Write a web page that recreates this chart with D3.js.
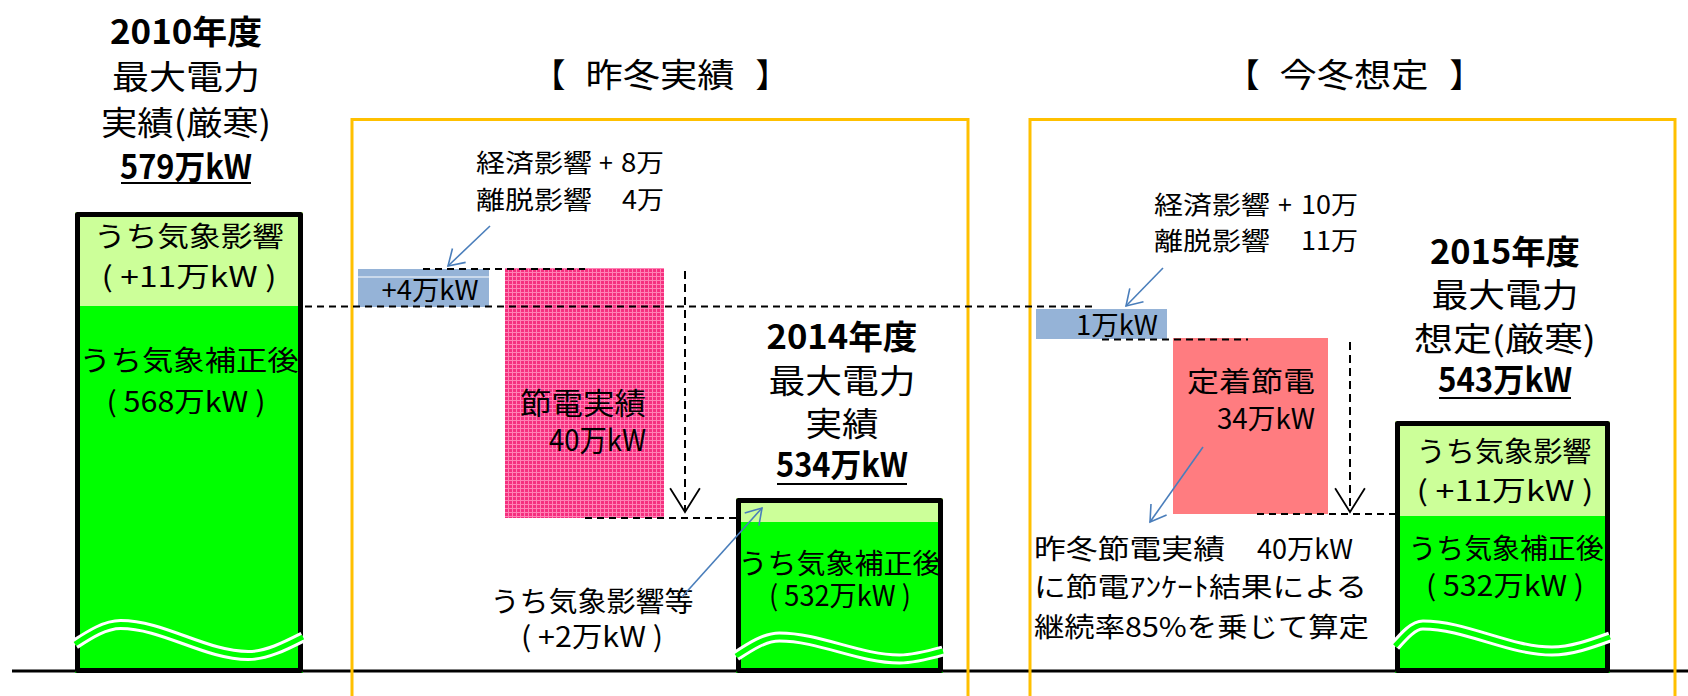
<!DOCTYPE html>
<html><head><meta charset="utf-8">
<script src="https://cdn.jsdelivr.net/npm/d3@7"></script>
<style>html,body{margin:0;padding:0;background:#fff;overflow:hidden;} svg{display:block;}</style>
</head><body>
<script>
// ================= DATA (万kW) =================
const categories      = ["2010年度", "昨冬 経済・離脱影響", "節電実績", "2014年度", "今冬 経済・離脱影響", "定着節電", "2015年度"];
const blockKinds      = ["total", "delta", "saving", "total", "delta", "saving", "total"];
const totalValues     = [579, null, null, 534, null, null, 543];
const weatherValues   = [11, null, null, 2, null, null, 11];
const correctedValues = [568, null, null, 532, null, null, 532];
const changeValues    = [null, 4, -40, null, -1, -34, null];
const economicEffect  = [8, 10];     // 経済影響 (昨冬, 今冬)
const departureEffect = [4, 11];     // 離脱影響 (昨冬, 今冬)
const sectionTitles   = ["昨冬実績", "今冬想定"];
const continuationRate = 85;         // %
const titleLines = [
  ["2010年度", "最大電力", "実績(厳寒)"],
  ["2014年度", "最大電力", "実績"],
  ["2015年度", "最大電力", "想定(厳寒)"]
];

// ================= LAYOUT =================
const W = 1688, H = 696;
const FONT = "'Noto Sans CJK JP','Noto Sans',sans-serif";
// schematic (broken, non-proportional) display scale: units above the bar base
const y = d3.scaleLinear().domain([0, 560]).range([673, 113]);
const x = d3.scaleLinear().domain([0, W]).range([0, W]);
const layout = {
  xLeft:  [75, 358, 505, 736, 1036, 1173, 1395],
  xRight: [303, 489, 664, 943, 1167, 1328, 1610],
  top:    [461, 404, 405, 175, 364, 335, 252],
  bottom: [0, 366, 155, 0, 334, 159, 0],
  split:  [367, null, null, 151, null, null, 157]
};
const COL = {
  light: "#CCFF99", dark: "#00FF00", blue: "#95B3D7", salmon: "#FF7C80",
  orange: "#FFC000", arrow: "#4A7EBB"
};

const svg = d3.select("body").append("svg").attr("width", W).attr("height", H);
svg.append("rect").attr("width", W).attr("height", H).attr("fill", "#fff");

// pink textured pattern
const defs = svg.append("defs");
const pat = defs.append("pattern").attr("id", "pinkTex").attr("patternUnits", "userSpaceOnUse")
  .attr("width", 4).attr("height", 4);
pat.append("rect").attr("width", 4).attr("height", 4).attr("fill", "#F5307F");
pat.append("rect").attr("width", 4).attr("height", 1).attr("fill", "#FF82B5");
pat.append("rect").attr("width", 1).attr("height", 4).attr("fill", "#FF82B5");

// baseline
svg.append("line").attr("x1", 12).attr("x2", W).attr("y1", 671).attr("y2", 671)
  .attr("stroke", "#000").attr("stroke-width", 3);

// orange section frames
[[352, 968], [1030, 1675]].forEach(([a, b]) => {
  svg.append("path").attr("d", `M${a},${H + 10}V119.5H${b}V${H + 10}`)
    .attr("fill", "none").attr("stroke", COL.orange).attr("stroke-width", 3);
});

// ================= BARS =================
const waves = {
  0: {l: 644, pk: 624.5, tp: 0.2, tr: 655.5, tt: 0.76, r: 637},
  3: {l: 656, pk: 637, tp: 0.21, tr: 659, tt: 0.79, r: 651},
  6: {l: 646, pk: 625, tp: 0.13, tr: 651, tt: 0.73, r: 637}
};
const waveLine = d3.line().curve(d3.curveMonotoneX);

categories.forEach((c, i) => {
  const x0 = x(layout.xLeft[i]), x1 = x(layout.xRight[i]);
  const yt = y(layout.top[i]), yb = y(layout.bottom[i]);
  const kind = blockKinds[i];
  if (kind === "total") {
    const ys = y(layout.split[i]);
    svg.append("rect").attr("x", x0).attr("y", yt).attr("width", x1 - x0).attr("height", ys - yt).attr("fill", COL.light);
    svg.append("rect").attr("x", x0).attr("y", ys).attr("width", x1 - x0).attr("height", yb - ys).attr("fill", COL.dark);
    svg.append("rect").attr("x", x0 + 2.5).attr("y", yt + 2.5).attr("width", x1 - x0 - 5).attr("height", yb - yt - 5)
      .attr("fill", "none").attr("stroke", "#000").attr("stroke-width", 5).attr("stroke-linejoin", "round");
    const w = waves[i], bw = x1 - x0;
    const pts = [[x0, w.l], [x0 + w.tp * bw, w.pk], [x0 + w.tt * bw, w.tr], [x1, w.r]];
    svg.append("path").attr("d", waveLine(pts)).attr("fill", "none").attr("stroke", "#fff").attr("stroke-width", 11);
    svg.append("path").attr("d", waveLine(pts)).attr("fill", "none").attr("stroke", COL.dark).attr("stroke-width", 5);
  } else if (kind === "delta") {
    svg.append("rect").attr("x", x0).attr("y", yt).attr("width", x1 - x0).attr("height", yb - yt).attr("fill", COL.blue);
    if (changeValues[i] > 0) {
      svg.append("line").attr("x1", x0).attr("x2", x1).attr("y1", yt + 8).attr("y2", yt + 8)
        .attr("stroke", "#fff").attr("stroke-width", 1.2);
    }
  } else {
    svg.append("rect").attr("x", x0).attr("y", yt).attr("width", x1 - x0).attr("height", yb - yt)
      .attr("fill", i === 2 ? "url(#pinkTex)" : COL.salmon);
  }
});

// ================= DASHED CONNECTORS =================
const connectors = [
  [305, 1097, layout.split[0] - 0.5],
  [423, 585, layout.top[1]],
  [585, 736, layout.bottom[2]],
  [1102, 1248, layout.bottom[4] - 0.5],
  [1257, 1395, layout.bottom[5]]
];
connectors.forEach(([a, b, lv]) => {
  svg.append("line").attr("x1", x(a)).attr("x2", x(b)).attr("y1", y(lv)).attr("y2", y(lv))
    .attr("stroke", "#000").attr("stroke-width", 2).attr("stroke-dasharray", "7,5");
});

// helpers
function head(p0, p1, L, ang, color, sw) {
  const a = Math.atan2(p0[1] - p1[1], p0[0] - p1[0]);
  const w1 = [p1[0] + L * Math.cos(a + ang), p1[1] + L * Math.sin(a + ang)];
  const w2 = [p1[0] + L * Math.cos(a - ang), p1[1] + L * Math.sin(a - ang)];
  svg.append("path").attr("d", `M${w1}L${p1}L${w2}`).attr("fill", "none")
    .attr("stroke", color).attr("stroke-width", sw).attr("stroke-linejoin", "miter");
}
function arrow(p0, p1) {
  svg.append("line").attr("x1", p0[0]).attr("y1", p0[1]).attr("x2", p1[0]).attr("y2", p1[1])
    .attr("stroke", COL.arrow).attr("stroke-width", 1.6);
  head(p0, p1, 18, 0.56, COL.arrow, 1.6);
}
function downArrow(xx, lv0, lv1) {
  const p0 = [x(xx), y(lv0)], p1 = [x(xx), y(lv1)];
  svg.append("line").attr("x1", p0[0]).attr("y1", p0[1]).attr("x2", p1[0]).attr("y2", p1[1] - 2)
    .attr("stroke", "#000").attr("stroke-width", 2).attr("stroke-dasharray", "8,5");
  head(p0, p1, 28, 0.56, "#000", 1.8);
}
// vertical dashed arrows (savings)
downArrow(685, layout.top[2] - 3, layout.bottom[2] + 6);
downArrow(1350, layout.top[5] - 4, layout.bottom[5] + 2);

// ================= TEXT =================
function label(xx, yy, str, o = {}) {
  const t = svg.append("text").attr("x", xx).attr("y", yy).text(str)
    .attr("font-family", FONT).attr("font-size", o.size || 28)
    .attr("font-weight", o.bold ? 700 : 400)
    .attr("text-anchor", o.anchor || "middle").attr("fill", "#000");
  if (o.tl) t.attr("textLength", o.tl).attr("lengthAdjust", "spacingAndGlyphs");
  return t;
}
const kW = v => `${v}万kW`;

// title blocks
function titleBlock(cx, ys, lines, value, tls, ul) {
  label(cx, ys[0], lines[0], {size: 33, bold: true, tl: tls[0]});
  label(cx, ys[1], lines[1], {size: 33, tl: tls[1]});
  label(cx, ys[2], lines[2], {size: 33, tl: tls[2]});
  label(cx, ys[3], kW(value), {size: 33, bold: true, tl: tls[3]});
  svg.append("line").attr("x1", cx - tls[3] / 2 + 1).attr("x2", cx + tls[3] / 2 - 1)
    .attr("y1", ul).attr("y2", ul).attr("stroke", "#000").attr("stroke-width", 2.2);
}
titleBlock(186, [44, 89, 135, 179], titleLines[0], totalValues[0], [152, 148, 170, 132], 183);
titleBlock(842, [349, 393, 436, 477], titleLines[1], totalValues[3], [151, 147, 73, 132], 484);
titleBlock(1505, [264, 307, 351, 392], titleLines[2], totalValues[6], [150, 147, 182, 134], 398);

// section headers
[[660, sectionTitles[0]], [1354, sectionTitles[1]]].forEach(([cx, s]) => {
  label(cx, 87, s, {size: 33, tl: 149});
  label(cx - 111, 87, "【", {size: 33, anchor: "middle"});
  label(cx + 112, 87, "】", {size: 33, anchor: "middle"});
});

// bar labels
label(189, 247, "うち気象影響", {tl: 190});
label(189, 287, `( +${weatherValues[0]}万kW )`, {tl: 175});
label(189, 371, "うち気象補正後", {tl: 219});
label(186, 412, `( ${kW(correctedValues[0])} )`, {tl: 159});

label(840, 574, "うち気象補正後", {tl: 203});
label(840, 606, `( ${kW(correctedValues[3])} )`, {tl: 142});

label(1504, 462, "うち気象影響", {tl: 175});
label(1505, 501, `( +${weatherValues[6]}万kW )`, {tl: 177});
label(1506, 559, "うち気象補正後", {tl: 195});
label(1505, 596, `( ${kW(correctedValues[6])} )`, {tl: 158});

// change labels
label(430, 300, `+${kW(changeValues[1])}`, {size: 27, tl: 97});
label(1117, 335, kW(-changeValues[4]), {size: 27, tl: 82});
label(646, 414, categories[2], {size: 30, anchor: "end", tl: 126});
label(646, 451, kW(-changeValues[2]), {size: 30, anchor: "end", tl: 97});
label(1315, 392, categories[5], {size: 28, anchor: "end", tl: 128});
label(1315, 429, kW(-changeValues[5]), {size: 28, anchor: "end", tl: 98});

// economic / departure annotations
[[476, 664, 606, 172, 209, 0], [1154, 1358, 1285, 214, 250, 1]].forEach(([xs, xe, xp, y1, y2, k]) => {
  label(xs, y1, "経済影響", {size: 25, anchor: "start", tl: 116});
  label(xp, y1, "+", {size: 25});
  label(xe, y1, `${economicEffect[k]}万`, {size: 25, anchor: "end", tl: k ? 57 : 43});
  label(xs, y2, "離脱影響", {size: 25, anchor: "start", tl: 116});
  label(xe, y2, `${departureEffect[k]}万`, {size: 25, anchor: "end", tl: k ? 57 : 42});
});

// weather effect note (2014)
label(592, 612, "うち気象影響等", {tl: 203});
label(592, 647, `( +${kW(weatherValues[3])} )`, {tl: 142});

// saving note (2015)
label(1034, 559, "昨冬節電実績", {size: 27, anchor: "start", tl: 191});
label(1353, 559, kW(-changeValues[2]), {size: 27, anchor: "end", tl: 96});
label(1034, 597, "に節電ｱﾝｹｰﾄ結果による", {size: 27, anchor: "start", tl: 333});
label(1034, 637, `継続率${continuationRate}%を乗じて算定`, {size: 27, anchor: "start", tl: 335});

// blue pointer arrows
arrow([490, 226], [448, 266]);
arrow([1163, 268], [1126, 306]);
arrow([682, 597], [762, 508]);
arrow([1203, 447], [1150, 522]);
</script>
</body></html>
